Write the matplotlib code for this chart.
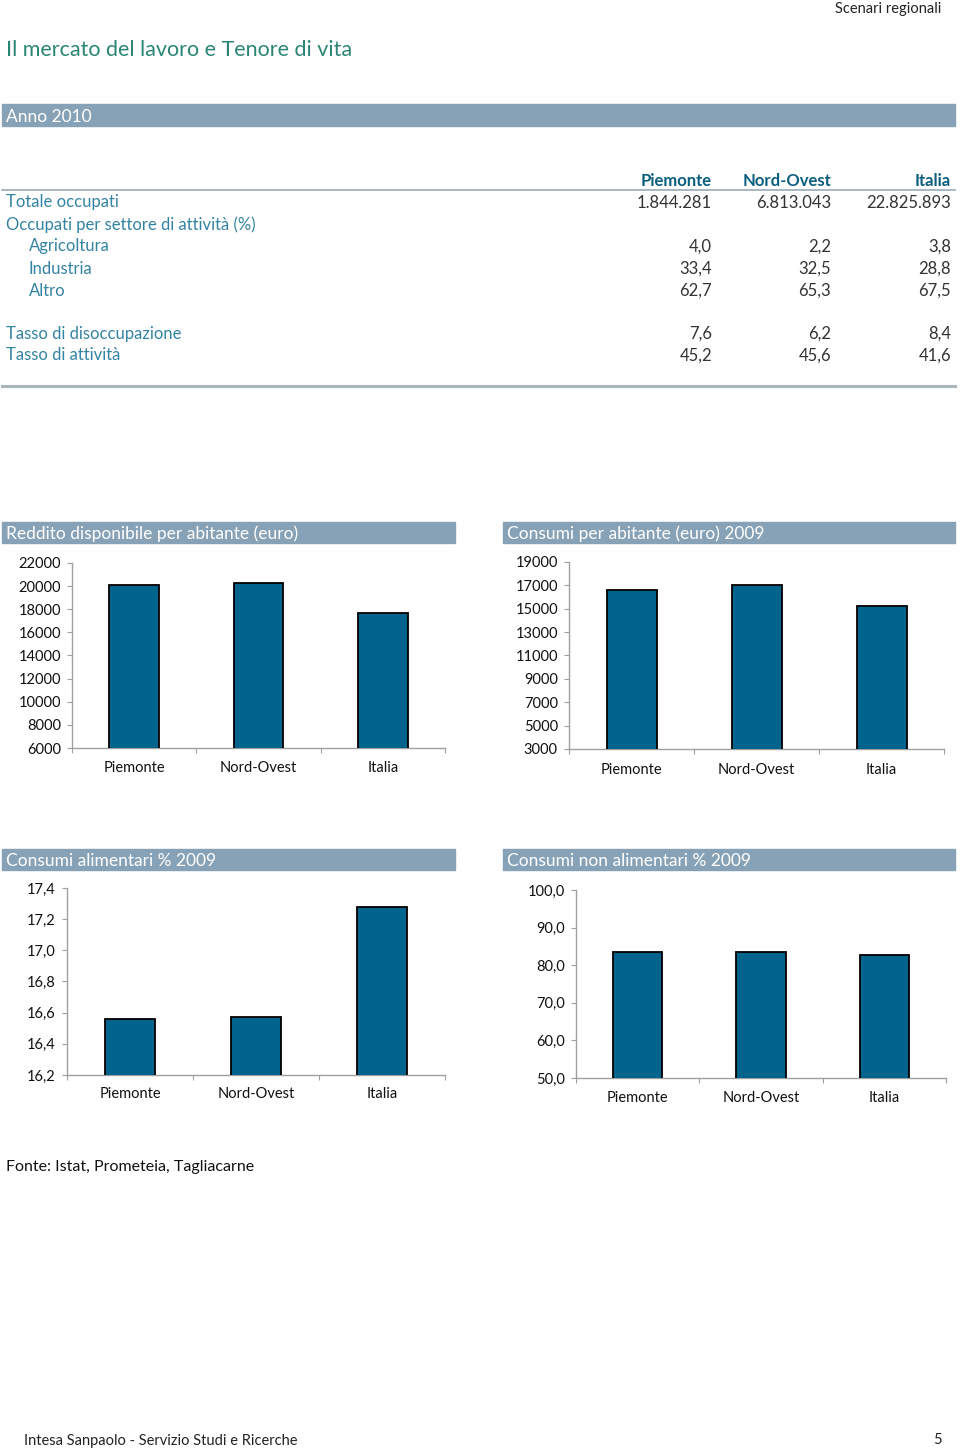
import matplotlib
matplotlib.use("Agg")
import matplotlib.pyplot as plt
from matplotlib.patches import Rectangle
from matplotlib.ticker import FuncFormatter

plt.rcParams['font.family'] = ['Lato', 'DejaVu Sans']

# ---------------- data ----------------
regions = ["Piemonte", "Nord-Ovest", "Italia"]

table_labels = ["Totale occupati", "Occupati per settore di attività (%)",
                "Agricoltura", "Industria", "Altro",
                "Tasso di disoccupazione", "Tasso di attività"]
table_piemonte = ["1.844.281", "", "4,0", "33,4", "62,7", "7,6", "45,2"]
table_nordovest = ["6.813.043", "", "2,2", "32,5", "65,3", "6,2", "45,6"]
table_italia = ["22.825.893", "", "3,8", "28,8", "67,5", "8,4", "41,6"]

reddito = [20100, 20300, 17700]
consumi = [16600, 17000, 15200]
alimentari = [16.56, 16.57, 17.28]
non_alimentari = [83.4, 83.4, 82.7]

# ---------------- layout helpers ----------------
W, H = 960, 1450
fig = plt.figure(figsize=(W / 100, H / 100), dpi=100)

def fx(x):
    return x / W

def fy(y):
    return 1 - y / H

TEAL = "#2a8575"
BLUE = "#3383a3"
HEAD = "#0b5f7e"
BAND = "#87a2b6"
BAR = "#00648c"
AX = "#a0a0a0"

def text(x, y, s, **kw):
    fig.text(fx(x), fy(y + 1.5), s, va="center", **kw)

def band(x0, x1, y0, y1, label, size=12.5):
    fig.patches.append(Rectangle((fx(x0), fy(y1)), fx(x1) - fx(x0), fy(y0) - fy(y1),
                                 transform=fig.transFigure, color=BAND, zorder=0))
    text(x0 + 4, (y0 + y1) / 2, label, color="white", fontsize=size)

def hline(y, x0, x1, lw=1.0, color="#9aaab5"):
    fig.add_artist(plt.Line2D([fx(x0), fx(x1)], [fy(y), fy(y)],
                              transform=fig.transFigure, color=color, lw=lw))

# ---------------- header ----------------
text(941, 7, "Scenari regionali", ha="right", color="#222222", fontsize=10.5)
text(6, 48, "Il mercato del lavoro e Tenore di vita", color=TEAL, fontsize=15.5)
band(2, 955, 104, 126, "Anno 2010", size=12.5)

# ---------------- table ----------------
col_x = [712, 831, 951]
for cx, name in zip(col_x, regions):
    text(cx, 180, name, ha="right", color=HEAD, fontsize=12, fontweight="bold")
hline(190, 2, 955, lw=1.2)

row_y = [201, 223, 245, 267, 289, 332, 354]
indent = [6, 6, 29, 29, 29, 6, 6]
for y, lab, ind, a, b, c in zip(row_y, table_labels, indent,
                                table_piemonte, table_nordovest, table_italia):
    text(ind, y, lab, color=BLUE, fontsize=12)
    for cx, v in zip(col_x, (a, b, c)):
        if v:
            text(cx, y, v, ha="right", color="#333333", fontsize=12)
hline(386, 2, 955, lw=2.2, color="#a9b5bd")

# ---------------- charts ----------------
def make_chart(box, values, ylim, yticks, fmt, label_pad):
    x0, x1, y0, y1 = box
    ax = fig.add_axes([fx(x0), fy(y1), fx(x1) - fx(x0), fy(y0) - fy(y1)])
    ax.bar(range(len(regions)), values, width=0.4, color=BAR,
           edgecolor="black", linewidth=1.3, zorder=3)
    ax.set_xlim(-0.5, len(regions) - 0.5)
    ax.set_ylim(*ylim)
    ax.set_yticks(yticks)
    ax.yaxis.set_major_formatter(FuncFormatter(fmt))
    ax.set_xticks([i - 0.5 for i in range(len(regions) + 1)])
    ax.set_xticklabels([])
    ax.set_xticks(range(len(regions)), minor=True)
    ax.set_xticklabels(regions, minor=True)
    ax.tick_params(axis="x", which="minor", length=0, pad=label_pad, labelsize=10.5,
                   labelcolor="#111111")
    ax.tick_params(axis="x", which="major", direction="out", length=3.5, color=AX)
    ax.tick_params(axis="y", direction="out", length=3.5, color=AX, labelsize=10.5,
                   labelcolor="#111111", pad=4.5)
    for s in ("top", "right"):
        ax.spines[s].set_visible(False)
    for s in ("left", "bottom"):
        ax.spines[s].set_color(AX)
        ax.spines[s].set_linewidth(1.0)
    ax.set_facecolor("none")
    return ax

int_fmt = lambda v, p: f"{int(round(v))}"
def dec_fmt(v, p):
    return f"{v:.1f}".replace(".", ",")

band(2, 455, 522, 543, "Reddito disponibile per abitante (euro)")
make_chart((72, 445, 563, 748), reddito, (6000, 22000),
           list(range(6000, 22001, 2000)), int_fmt, 9)

band(503, 955, 522, 543, "Consumi per abitante (euro) 2009")
make_chart((569, 944, 562, 749), consumi, (3000, 19000),
           list(range(3000, 19001, 2000)), int_fmt, 10)

band(2, 455, 849, 870, "Consumi alimentari % 2009")
make_chart((67, 445, 888, 1075), alimentari, (16.2, 17.4),
           [16.2, 16.4, 16.6, 16.8, 17.0, 17.2, 17.4], dec_fmt, 9)

band(503, 955, 849, 870, "Consumi non alimentari % 2009")
make_chart((576, 946, 890, 1078), non_alimentari, (50, 100),
           [50, 60, 70, 80, 90, 100], dec_fmt, 9)

# ---------------- footer ----------------
text(6, 1165, "Fonte: Istat, Prometeia, Tagliacarne", color="#111111", fontsize=11.5)
text(24, 1439, "Intesa Sanpaolo - Servizio Studi e Ricerche", color="#222222", fontsize=10.5)
text(942, 1439, "5", ha="right", color="#222222", fontsize=10.5)

fig.savefig("out.png", dpi=100)
